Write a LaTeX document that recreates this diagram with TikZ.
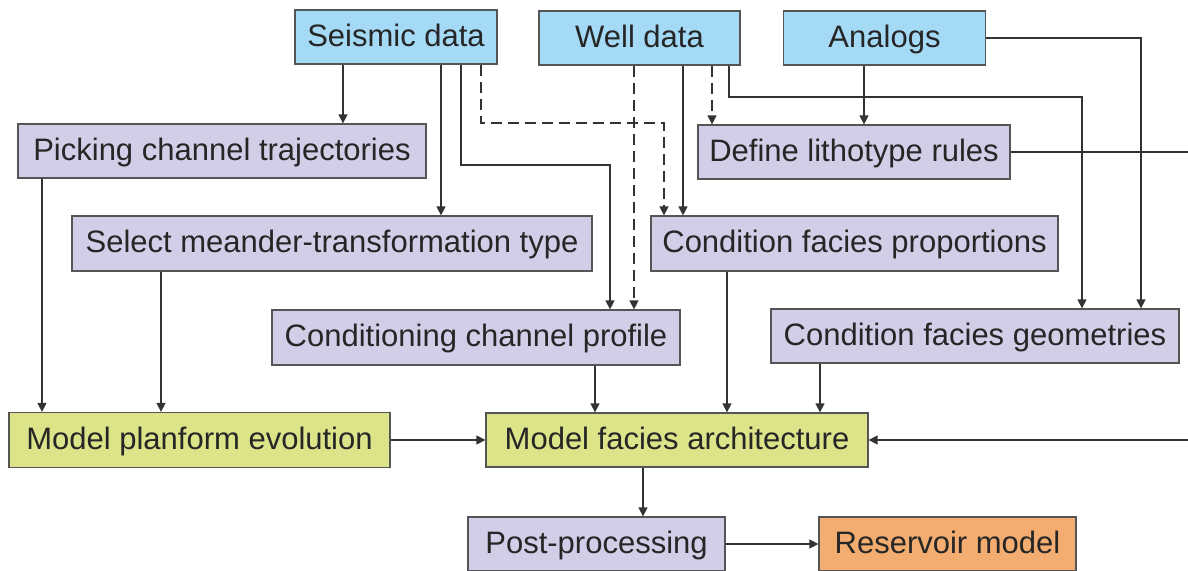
\documentclass[tikz,border=0pt]{standalone}
\usepackage{fontspec}
\setmainfont{Liberation Sans}
\usetikzlibrary{arrows.meta}
\definecolor{cblue}{RGB}{164,218,246}
\definecolor{clav}{RGB}{209,206,231}
\definecolor{cgreen}{RGB}{220,227,137}
\definecolor{corange}{RGB}{244,173,112}
\definecolor{cborder}{RGB}{85,85,85}
\definecolor{cline}{RGB}{51,51,51}
\definecolor{ctext}{RGB}{38,38,38}
\begin{document}
\begin{tikzpicture}[x=1pt,y=-1pt,
 box/.style={draw=cborder, line width=1.3pt, inner sep=0pt, minimum height=54pt,
   text height=25pt, text depth=7pt, font=\fontsize{31}{36}\selectfont, text=ctext},
 arr/.style={draw=cline, line width=1.4pt, -{Triangle[length=9pt,width=9pt]}},
 dsh/.style={arr, dash pattern=on 11pt off 6pt},
]
\useasboundingbox (0,0) rectangle (1188,570);

% nodes
\node[box, fill=cblue, minimum width=202pt] (seis) at (396,37) {Seismic data};
\node[box, fill=cblue, minimum width=201pt] (well) at (639.5,38) {Well data};
\node[box, fill=cblue, minimum width=202pt] (anal) at (884.5,38) {Analogs};
\node[box, fill=clav, minimum width=408pt] (pick) at (222,151) {Picking channel trajectories};
\node[box, fill=clav, minimum width=312pt] (lith) at (854,152) {Define lithotype rules};
\node[box, fill=clav, minimum width=520pt, minimum height=55pt] (sel) at (332,243.5) {Select meander-transformation type};
\node[box, fill=clav, minimum width=407pt, minimum height=55pt] (cfp) at (854.5,243.5) {Condition facies proportions};
\node[box, fill=clav, minimum width=408pt, minimum height=55pt] (ccp) at (476,337.5) {Conditioning channel profile};
\node[box, fill=clav, minimum width=408pt] (cfg) at (975,336) {Condition facies geometries};
\node[box, fill=cgreen, minimum width=381pt, minimum height=55pt] (mpe) at (199.5,440) {Model planform evolution};
\node[box, fill=cgreen, minimum width=382pt] (mfa) at (677,440) {Model facies architecture};
\node[box, fill=clav, minimum width=257pt] (pp) at (596.5,544) {Post-processing};
\node[box, fill=corange, minimum width=257pt] (rm) at (947.5,544) {Reservoir model};

% helper coordinates
\coordinate (v343) at (343,0);
\coordinate (v441) at (441,0);
\coordinate (v461) at (461,0);
\coordinate (k3) at (610,165);
\coordinate (v481) at (481,0);
\coordinate (k4) at (664,123);
\coordinate (v634) at (634,0);
\coordinate (v683) at (683,0);
\coordinate (v712) at (712,0);
\coordinate (v729) at (729,0);
\coordinate (k8) at (1082,97);
\coordinate (v864) at (864,0);
\coordinate (v1141) at (1141,0);
\coordinate (kR) at (1205,440);
\coordinate (v42) at (42,0);
\coordinate (v161) at (161,0);
\coordinate (v595) at (595,0);
\coordinate (v727) at (727,0);
\coordinate (v820) at (820,0);
\coordinate (v643) at (643,0);

% connectors
\draw[arr] (seis.south -| v343) -- (pick.north -| v343);
\draw[arr] (seis.south -| v441) -- (sel.north -| v441);
\draw[arr] (seis.south -| v461) |- (k3) -- (ccp.north -| k3);
\draw[dsh] (seis.south -| v481) |- (k4) -- (cfp.north -| k4);
\draw[dsh] (well.south -| v634) -- (ccp.north -| v634);
\draw[arr] (well.south -| v683) -- (cfp.north -| v683);
\draw[dsh] (well.south -| v712) -- (lith.north -| v712);
\draw[arr] (well.south -| v729) |- (k8) -- (cfg.north -| k8);
\draw[arr] (anal.south -| v864) -- (lith.north -| v864);
\draw[arr] (anal.east) -| (cfg.north -| v1141);
\draw[arr] (lith.east) -| (kR) -- (mfa.east);
\draw[arr] (pick.south -| v42) -- (mpe.north -| v42);
\draw[arr] (sel.south -| v161) -- (mpe.north -| v161);
\draw[arr] (mpe.east) -- (mfa.west);
\draw[arr] (ccp.south -| v595) -- (mfa.north -| v595);
\draw[arr] (cfp.south -| v727) -- (mfa.north -| v727);
\draw[arr] (cfg.south -| v820) -- (mfa.north -| v820);
\draw[arr] (mfa.south -| v643) -- (pp.north -| v643);
\draw[arr] (pp.east) -- (rm.west);
\end{tikzpicture}
\end{document}
